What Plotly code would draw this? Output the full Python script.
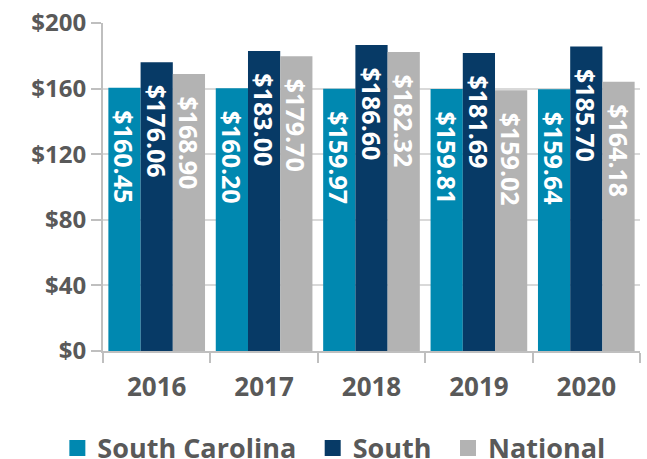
import plotly.graph_objects as go

years = ["2016", "2017", "2018", "2019", "2020"]
south_carolina = [160.45, 160.20, 159.97, 159.81, 159.64]
south = [176.06, 183.00, 186.60, 181.69, 185.70]
national = [168.90, 179.70, 182.32, 159.02, 164.18]
series_names = ["South Carolina", "South", "National"]
colors = ["#0088B0", "#073A66", "#B3B3B3"]
y_ticks = [0, 40, 80, 120, 160, 200]
y_tick_labels = ["$0", "$40", "$80", "$120", "$160", "$200"]

FONT = "Open Sans"
GRAY = "#595959"
PAD = "\u00a0\u00a0\u00a0"

fig = go.Figure()
for name, vals, col in zip(series_names, [south_carolina, south, national], colors):
    fig.add_trace(go.Bar(
        x=years, y=vals, name=name, marker=dict(color=col, line=dict(width=0)),
        text=[PAD + f"${v:.2f}" for v in vals],
        textposition="inside", insidetextanchor="end", textangle=90,
        constraintext="none", cliponaxis=False,
        textfont=dict(family=FONT, size=25, color="white", weight=700),
        showlegend=False, hoverinfo="skip",
    ))
for name, col in zip(series_names, colors):
    fig.add_trace(go.Scatter(
        x=[None], y=[None], mode="markers", name=name + "\u00a0\u2009",
        marker=dict(symbol="square", size=16, color=col),
    ))

fig.update_layout(
    width=647, height=459,
    margin=dict(l=103, r=7, t=23, b=108, autoexpand=False),
    paper_bgcolor="white", plot_bgcolor="white",
    barmode="group", bargap=0.1, bargroupgap=0,
    font=dict(family=FONT, color=GRAY, weight=700),
    legend=dict(
        orientation="h", x=-0.085, xanchor="left", y=-0.297, yanchor="middle",
        font=dict(family=FONT, size=27, color=GRAY, weight=700),
        itemwidth=30, bgcolor="rgba(0,0,0,0)",
    ),
    xaxis=dict(
        type="category", showline=True, linecolor="#BFBFBF", linewidth=2,
        ticks="outside", tickson="boundaries", ticklen=10, tickwidth=2, tickcolor="#BFBFBF",
        tickfont=dict(family=FONT, size=26, color=GRAY, weight=700),
        ticklabelstandoff=12,
        showgrid=False, zeroline=False,
    ),
    yaxis=dict(
        range=[0, 200], tickvals=y_ticks, ticktext=y_tick_labels,
        showline=True, linecolor="#BFBFBF", linewidth=2,
        ticks="outside", ticklen=10, tickwidth=2, tickcolor="#BFBFBF",
        showgrid=True, gridcolor="#D9D9D9", gridwidth=2, zeroline=False,
        tickfont=dict(family=FONT, size=24, color=GRAY, weight=700),
    ),
)

fig.write_html(
    "out.html",
    config={"displayModeBar": False},
    post_script="document.body.style.margin='0';document.body.style.overflow='hidden';",
)
